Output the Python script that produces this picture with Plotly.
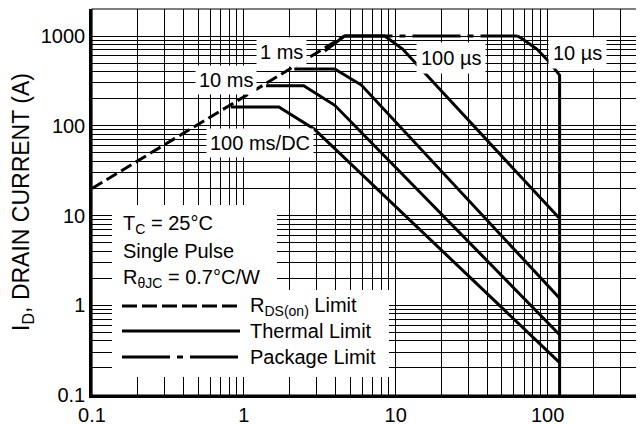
import plotly.graph_objects as go

# ---- data (V_DS in V, I_D in A) ----
rds_v = [0.1, 4.6]
rds_i = [20, 1000]

pkg_v = [4.6, 63.5]
pkg_i = [1000, 1000]

us10_v = [63.5, 68, 85, 103, 120, 120]
us10_i = [1000, 930, 716, 512, 366, 0.1]

us100_v = [3.41, 4.6, 8.47, 11.1, 120]
us100_i = [680, 1000, 1000, 716, 9.25]

ms1_v = [2.15, 3.97, 5.94, 120]
ms1_i = [430, 430, 284, 1.2]

ms10_v = [1.40, 2.48, 3.97, 120]
ms10_i = [279, 279, 169, 0.47]

dc_v = [0.82, 1.70, 2.9, 120]
dc_i = [162, 162, 92, 0.23]

x_decades = [0.1, 1, 10, 100]
y_decades = [0.1, 1, 10, 100, 1000]
x_tick_labels = ["0.1", "1", "10", "100"]
y_tick_labels = ["0.1", "1", "10", "100", "1000"]
digits = [1, 2, 3, 4, 5, 6, 7, 8, 9]

FONT = "Liberation Sans, Arial, Helvetica, sans-serif"
FS = 20

# grid positions (1..9 per decade), labels only at decades
x_tickvals, x_ticktext = [], []
for d, lab in zip(x_decades, x_tick_labels):
    for k in digits:
        v = round(d * k, 6)
        x_tickvals.append(v)
        x_ticktext.append(lab if k == 1 else "")
y_tickvals, y_ticktext = [], []
for d, lab in zip(y_decades, y_tick_labels):
    for k in digits:
        v = round(d * k, 6)
        if v > 2000:
            break
        y_tickvals.append(v)
        y_ticktext.append(lab if k == 1 else "")

fig = go.Figure()
line_w = 3
fig.add_trace(go.Scatter(x=pkg_v, y=pkg_i, mode="lines",
                         line=dict(color="black", width=line_w, dash="48px,7px,6px,7px")))
fig.add_trace(go.Scatter(x=rds_v, y=rds_i, mode="lines",
                         line=dict(color="black", width=line_w, dash="12px,5px")))
for xv, yv in [(us10_v, us10_i), (us100_v, us100_i), (ms1_v, ms1_i),
               (ms10_v, ms10_i), (dc_v, dc_i)]:
    fig.add_trace(go.Scatter(x=xv, y=yv, mode="lines",
                             line=dict(color="black", width=line_w)))

# plot area in reference-picture pixels; the page body adds an 8px offset
OFF = 8
L, R, T, B = 92, 639, 9, 395
W, H = 644 - OFF, 424 - OFF


def px(x):
    return (x - L) / (R - L)


def py(y):
    return (B - y) / (B - T)


shapes = []
# frame (thin top/right)
shapes.append(dict(type="rect", xref="paper", yref="paper", x0=0, x1=1, y0=0, y1=1,
                   line=dict(color="black", width=1.2), layer="above"))
# legend white box
shapes.append(dict(type="rect", xref="paper", yref="paper",
                   x0=px(112), x1=px(277), y0=py(290), y1=py(205),
                   fillcolor="white", line=dict(width=0), layer="above"))
shapes.append(dict(type="rect", xref="paper", yref="paper",
                   x0=px(112), x1=px(389), y0=py(377), y1=py(290),
                   fillcolor="white", line=dict(width=0), layer="above"))
leg_rows = [(306, "15px,5px", "R<sub>DS(on)</sub> Limit"),
            (331, "solid", "Thermal Limit"),
            (357, "48px,7px,6px,7px", "Package Limit")]
for yy, dash, _ in leg_rows:
    shapes.append(dict(type="line", xref="paper", yref="paper",
                       x0=px(122), x1=px(240), y0=py(yy), y1=py(yy),
                       line=dict(color="black", width=3, dash=dash), layer="above"))

annotations = []


def ann(text, x, y, anchor="center", bg=None, pad=2):
    d = dict(text=text, xref="paper", yref="paper", x=px(x), y=py(y),
             xanchor=anchor, yanchor="middle", showarrow=False,
             font=dict(family=FONT, size=FS, color="black"), borderpad=pad)
    if bg:
        d["bgcolor"] = bg
    annotations.append(d)


ann("1 ms", 281, 52, bg="white", pad=3)
ann("10 ms", 226, 80, bg="white", pad=3)
ann("100 ms/DC", 260, 143, bg="white", pad=3)
ann("100 µs", 451, 58, bg="white", pad=4)
ann("10 µs", 577, 53, bg="white", pad=4)

ann("T<sub>C</sub> = 25°C", 120, 224, anchor="left")
ann("Single Pulse", 120, 251, anchor="left")
ann("R<sub>θJC</sub> = 0.7°C/W", 120, 278, anchor="left")
for yy, _, txt in leg_rows:
    ann(txt, 247, yy, anchor="left")

fig.update_layout(
    width=W, height=H,
    margin=dict(l=L - OFF, r=644 - R, t=T - OFF, b=424 - B, pad=0, autoexpand=False),
    plot_bgcolor="white", paper_bgcolor="white",
    showlegend=False,
    font=dict(family=FONT, size=FS, color="black"),
    shapes=shapes, annotations=annotations,
    xaxis=dict(type="log", range=[-1, 2.602], tickvals=x_tickvals, ticktext=x_ticktext,
               showgrid=True, gridcolor="black", gridwidth=1, zeroline=False,
               showline=True, linecolor="black", linewidth=2.5, ticks="",
               automargin=False, tickfont=dict(family=FONT, size=FS)),
    yaxis=dict(type="log", range=[-1, 3.301], tickvals=y_tickvals, ticktext=y_ticktext,
               showgrid=True, gridcolor="black", gridwidth=1, zeroline=False,
               showline=True, linecolor="black", linewidth=2.5, ticks="",
               automargin=False, tickfont=dict(family=FONT, size=FS),
               title=dict(text="I<sub>D</sub>, DRAIN CURRENT (A)",
                          font=dict(family=FONT, size=23))),
)

fig.write_html("out.html")
